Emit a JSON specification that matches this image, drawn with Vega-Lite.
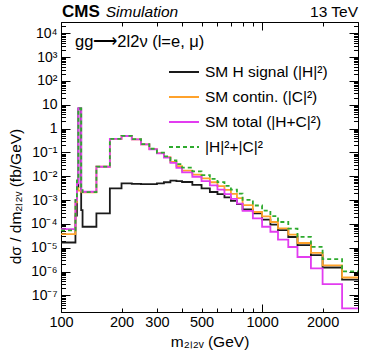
{
  "$schema": "https://vega.github.io/schema/vega-lite/v6.json",
  "width": 297,
  "height": 290,
  "autosize": {"type": "none"},
  "padding": {"left": 61, "top": 22, "right": 16, "bottom": 44},
  "config": {
    "view": {"stroke": null},
    "font": "Liberation Sans",
    "axis": {"grid": false, "domainColor": "black", "domainWidth": 1, "tickColor": "black", "labelColor": "black", "titleColor": "black", "labelFont": "Liberation Sans", "titleFont": "Liberation Sans", "titleFontWeight": "normal"}
  },
  "data": {"values": [
    {"lo":100,"H":1.66e-5,"C":3.72e-5,"T":6.03e-5,"S":5.38e-5},
    {"lo":118,"H":2.24e-4,"C":7.94e-4,"T":1.0e-3,"S":1.02e-3},
    {"lo":120,"H":3.55e-3,"C":3.16e-3,"T":5.01e-3,"S":6.71e-3},
    {"lo":122,"H":7.0,"C":2.51e-3,"T":7.0,"S":7.0},
    {"lo":126,"H":3.8e-4,"C":2.24e-3,"T":2.51e-3,"S":2.62e-3},
    {"lo":128,"H":7.59e-5,"C":2.09e-3,"T":2.24e-3,"S":2.17e-3},
    {"lo":150,"H":2.75e-4,"C":2.51e-2,"T":2.51e-2,"S":2.54e-2},
    {"lo":175,"H":3.09e-3,"C":0.372,"T":0.372,"S":0.375},
    {"lo":200,"H":5.01e-3,"C":0.49,"T":0.49,"S":0.495},
    {"lo":225,"H":4.79e-3,"C":0.355,"T":0.355,"S":0.36},
    {"lo":250,"H":4.68e-3,"C":0.219,"T":0.219,"S":0.224},
    {"lo":275,"H":4.68e-3,"C":0.138,"T":0.136,"S":0.143},
    {"lo":300,"H":5.01e-3,"C":9.33e-2,"T":9.12e-2,"S":9.83e-2},
    {"lo":325,"H":5.62e-3,"C":6.31e-2,"T":6.03e-2,"S":6.87e-2},
    {"lo":350,"H":6.61e-3,"C":3.98e-2,"T":3.63e-2,"S":4.64e-2},
    {"lo":375,"H":6.31e-3,"C":2.63e-2,"T":2.24e-2,"S":3.26e-2},
    {"lo":400,"H":5.75e-3,"C":1.74e-2,"T":1.45e-2,"S":2.31e-2},
    {"lo":450,"H":4.37e-3,"C":1.175e-2,"T":9.55e-3,"S":1.61e-2},
    {"lo":500,"H":3.09e-3,"C":8.13e-3,"T":6.31e-3,"S":1.12e-2},
    {"lo":550,"H":2.19e-3,"C":5.62e-3,"T":4.17e-3,"S":7.81e-3},
    {"lo":600,"H":1.78e-3,"C":3.89e-3,"T":2.75e-3,"S":5.67e-3},
    {"lo":650,"H":1.29e-3,"C":2.69e-3,"T":1.78e-3,"S":3.98e-3},
    {"lo":700,"H":9.33e-4,"C":1.82e-3,"T":1.12e-3,"S":2.75e-3},
    {"lo":750,"H":6.76e-4,"C":1.2e-3,"T":7.08e-4,"S":1.88e-3},
    {"lo":800,"H":4.07e-4,"C":6.17e-4,"T":3.55e-4,"S":1.02e-3},
    {"lo":900,"H":2.75e-4,"C":3.16e-4,"T":1.7e-4,"S":5.91e-4},
    {"lo":1000,"H":1.51e-4,"C":2.09e-4,"T":7.59e-5,"S":3.6e-4},
    {"lo":1100,"H":9.33e-5,"C":1.2e-4,"T":4.68e-5,"S":2.13e-4},
    {"lo":1200,"H":5.5e-5,"C":6.46e-5,"T":2.19e-5,"S":1.2e-4},
    {"lo":1350,"H":2.82e-5,"C":3.55e-5,"T":1.07e-5,"S":6.37e-5},
    {"lo":1500,"H":1.29e-5,"C":1.58e-5,"T":4.07e-6,"S":2.87e-5},
    {"lo":1750,"H":4.9e-6,"C":6.03e-6,"T":1.35e-6,"S":1.09e-5},
    {"lo":2000,"H":1.48e-6,"C":1.82e-6,"T":2.95e-7,"S":3.3e-6},
    {"lo":2500,"H":4.57e-7,"C":5.62e-7,"T":2.82e-8,"S":1.02e-6},
    {"lo":3000,"H":4.57e-7,"C":5.62e-7,"T":2.82e-8,"S":1.02e-6}
  ]},
  "transform": [{"fold": ["H", "C", "T", "S"], "as": ["series", "val"]}],
  "layer": [
    {
      "encoding": {
        "x": {"field": "lo", "type": "quantitative", "scale": {"type": "log", "domain": [100, 3000], "nice": false},
          "axis": {"orient": "bottom", "values": [100,200,300,400,500,600,700,800,900,1000,2000,3000], "format": "d",
            "labelExpr": "(datum.value == 100 || datum.value == 200 || datum.value == 300 || datum.value == 500 || datum.value == 1000 || datum.value == 2000) ? datum.label : ''",
            "tickSize": {"condition": {"test": "datum.value == 1000", "value": -8}, "value": -4},
            "labelPadding": {"condition": {"test": "datum.value == 1000", "value": 11}, "value": 7},
            "labelFontSize": 14.5, "labelFlush": false, "labelOverlap": false,
            "title": "m₂ₗ₂ᵥ (GeV)", "titleFontSize": 15.5, "titleY": 34, "titleBaseline": "alphabetic"}},
        "y": {"field": "val", "type": "quantitative", "scale": {"type": "log", "domain": [2e-8, 30000], "nice": false},
          "axis": {"orient": "left",
            "values": [2e-8,3e-8,4e-8,5e-8,6e-8,7e-8,8e-8,9e-8,1e-7,2e-7,3e-7,4e-7,5e-7,6e-7,7e-7,8e-7,9e-7,1e-6,2e-6,3e-6,4e-6,5e-6,6e-6,7e-6,8e-6,9e-6,1e-5,2e-5,3e-5,4e-5,5e-5,6e-5,7e-5,8e-5,9e-5,1e-4,2e-4,3e-4,4e-4,5e-4,6e-4,7e-4,8e-4,9e-4,1e-3,2e-3,3e-3,4e-3,5e-3,6e-3,7e-3,8e-3,9e-3,0.01,0.02,0.03,0.04,0.05,0.06,0.07,0.08,0.09,0.1,0.2,0.3,0.4,0.5,0.6,0.7,0.8,0.9,1,2,3,4,5,6,7,8,9,10,20,30,40,50,60,70,80,90,100,200,300,400,500,600,700,800,900,1000,2000,3000,4000,5000,6000,7000,8000,9000,10000,20000,30000],
            "labelExpr": "abs(log(datum.value)/LN10 - round(log(datum.value)/LN10)) < 0.001 ? ['10⁻⁷','10⁻⁶','10⁻⁵','10⁻⁴','10⁻³','10⁻²','10⁻¹','1','10','10²','10³','10⁴'][round(log(datum.value)/LN10)+7] : ''",
            "tickSize": {"condition": {"test": "abs(log(datum.value)/LN10 - round(log(datum.value)/LN10)) < 0.001", "value": -9}, "value": -4.5},
            "labelPadding": {"condition": {"test": "abs(log(datum.value)/LN10 - round(log(datum.value)/LN10)) < 0.001", "value": 13}, "value": 8.5},
            "labelFontSize": 14, "labelFlush": false, "labelOverlap": false,
            "title": "dσ / dm₂ₗ₂ᵥ (fb/GeV)", "titleFontSize": 15.5, "titleX": -46, "titleY": 174, "titleAlign": "center", "titleBaseline": "middle", "titleAngle": -90}}
      },
      "layer": [
        {"transform": [{"filter": {"field": "series", "equal": "H"}}],
         "mark": {"type": "line", "interpolate": "step-after", "strokeWidth": 1.8},
         "encoding": {
           "color": {"field": "series", "type": "nominal", "scale": {"domain": ["H","C","T","S"], "range": ["#1a1a1a","#ffa22b","#e23cf0","#2eaa2e"]},
             "legend": {"orient": "none", "legendX": 107, "legendY": 34, "title": null, "symbolType": "stroke", "symbolSize": 900, "symbolStrokeWidth": 2, "labelFontSize": 15.5, "labelFont": "Liberation Sans", "labelColor": "black", "labelLimit": 400, "rowPadding": -4.5, "labelOffset": 5, "padding": 0,
               "labelExpr": "datum.value == 'H' ? 'SM H signal (|H|²)' : datum.value == 'C' ? 'SM contin. (|C|²)' : datum.value == 'T' ? 'SM total (|H+C|²)' : '|H|²+|C|²'"}},
           "strokeDash": {"field": "series", "type": "nominal", "scale": {"domain": ["H","C","T","S"], "range": [[1,0],[1,0],[1,0],[4,3]]},
             "legend": {"orient": "none", "legendX": 107, "legendY": 34, "title": null, "symbolType": "stroke", "symbolSize": 900, "symbolStrokeWidth": 2, "labelFontSize": 15.5, "labelFont": "Liberation Sans", "labelColor": "black", "labelLimit": 400, "rowPadding": -4.5, "labelOffset": 5, "padding": 0,
               "labelExpr": "datum.value == 'H' ? 'SM H signal (|H|²)' : datum.value == 'C' ? 'SM contin. (|C|²)' : datum.value == 'T' ? 'SM total (|H+C|²)' : '|H|²+|C|²'"}}
         }},
        {"transform": [{"filter": {"field": "series", "equal": "C"}}],
         "mark": {"type": "line", "interpolate": "step-after", "strokeWidth": 1.8},
         "encoding": {
           "color": {"field": "series", "type": "nominal"},
           "strokeDash": {"field": "series", "type": "nominal"}
         }},
        {"transform": [{"filter": {"field": "series", "equal": "T"}}],
         "mark": {"type": "line", "interpolate": "step-after", "strokeWidth": 1.8},
         "encoding": {
           "color": {"field": "series", "type": "nominal"},
           "strokeDash": {"field": "series", "type": "nominal"}
         }},
        {"transform": [{"filter": {"field": "series", "equal": "S"}}],
         "mark": {"type": "line", "interpolate": "step-after", "strokeWidth": 1.8},
         "encoding": {
           "color": {"field": "series", "type": "nominal"},
           "strokeDash": {"field": "series", "type": "nominal"}
         }},
        {"transform": [{"filter": "datum.lo == 100 && datum.series == 'H'"}],
         "mark": {"type": "text", "text": "CMS", "align": "left", "baseline": "alphabetic", "fontSize": 17, "fontWeight": "bold", "font": "Liberation Sans", "color": "black", "dx": 1},
         "encoding": {"x": {"datum": 100}, "y": {"datum": 50000}}},
        {"transform": [{"filter": "datum.lo == 100 && datum.series == 'H'"}],
         "mark": {"type": "text", "text": "Simulation", "align": "left", "baseline": "alphabetic", "fontSize": 15.5, "fontStyle": "italic", "font": "Liberation Sans", "color": "black"},
         "encoding": {"x": {"datum": 167}, "y": {"datum": 50000}}},
        {"transform": [{"filter": "datum.lo == 100 && datum.series == 'H'"}],
         "mark": {"type": "text", "text": "13 TeV", "align": "right", "baseline": "alphabetic", "fontSize": 15.5, "font": "Liberation Sans", "color": "black"},
         "encoding": {"x": {"datum": 3000}, "y": {"datum": 50000}}},
        {"transform": [{"filter": "datum.lo == 100 && datum.series == 'H'"}],
         "mark": {"type": "text", "text": "gg⟶2l2ν (l=e, μ)", "align": "left", "baseline": "alphabetic", "fontSize": 16.5, "font": "Liberation Sans", "color": "black"},
         "encoding": {"x": {"datum": 117.4}, "y": {"datum": 2670}}}
      ]
    },
    {
      "mark": {"type": "point", "opacity": 0},
      "encoding": {
        "x": {"field": "lo", "type": "quantitative", "scale": {"type": "log", "domain": [100, 3000], "nice": false},
          "axis": {"orient": "top", "values": [100,200,300,400,500,600,700,800,900,1000,2000,3000], "labels": false, "title": null,
            "tickSize": {"condition": {"test": "datum.value == 1000", "value": -8}, "value": -4}}},
        "y": {"field": "val", "type": "quantitative", "scale": {"type": "log", "domain": [2e-8, 30000], "nice": false},
          "axis": {"orient": "right", "labels": false, "title": null,
            "values": [2e-8,3e-8,4e-8,5e-8,6e-8,7e-8,8e-8,9e-8,1e-7,2e-7,3e-7,4e-7,5e-7,6e-7,7e-7,8e-7,9e-7,1e-6,2e-6,3e-6,4e-6,5e-6,6e-6,7e-6,8e-6,9e-6,1e-5,2e-5,3e-5,4e-5,5e-5,6e-5,7e-5,8e-5,9e-5,1e-4,2e-4,3e-4,4e-4,5e-4,6e-4,7e-4,8e-4,9e-4,1e-3,2e-3,3e-3,4e-3,5e-3,6e-3,7e-3,8e-3,9e-3,0.01,0.02,0.03,0.04,0.05,0.06,0.07,0.08,0.09,0.1,0.2,0.3,0.4,0.5,0.6,0.7,0.8,0.9,1,2,3,4,5,6,7,8,9,10,20,30,40,50,60,70,80,90,100,200,300,400,500,600,700,800,900,1000,2000,3000,4000,5000,6000,7000,8000,9000,10000,20000,30000],
            "tickSize": {"condition": {"test": "abs(log(datum.value)/LN10 - round(log(datum.value)/LN10)) < 0.001", "value": -9}, "value": -4.5}}}
      }
    }
  ],
  "resolve": {"scale": {"x": "independent", "y": "independent"}}
}
